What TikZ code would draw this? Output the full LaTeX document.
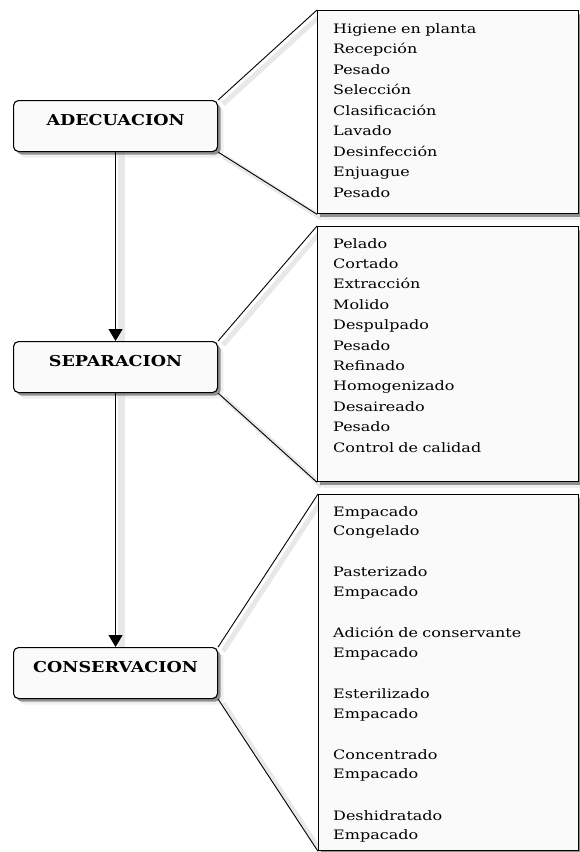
\documentclass[tikz,border=0pt]{standalone}
\usepackage{fontspec}
\usetikzlibrary{arrows.meta,shadows,backgrounds}
\newfontfamily\bodyfont[FakeStretch=1.23]{DejaVu Serif}
\newfontfamily\labelfont[FakeStretch=1.17]{DejaVu Serif}
\begin{document}
\begin{tikzpicture}[x=1pt,y=-1pt,
  stage/.style={draw=black, line width=1.1pt, rounded corners=5pt, fill=black!2,
    minimum width=204pt, inner xsep=0pt, inner ysep=0pt,
    text height=24.5pt, text depth=26.5pt, anchor=north west,
    font=\labelfont\bfseries\fontsize{15}{18}\selectfont,
    drop shadow={shadow xshift=6pt, shadow yshift=-6pt, fill=black!12},
    drop shadow={shadow xshift=3pt, shadow yshift=-3pt, fill=black!80}},
  listbox/.style={draw=black, line width=1.3pt, fill=black!2, anchor=north west,
    inner sep=0pt,
    drop shadow={shadow xshift=5pt, shadow yshift=-6pt, fill=black!12},
    drop shadow={shadow xshift=2.5pt, shadow yshift=-3pt, fill=black!80}},
  listtext/.style={inner sep=0pt, text width=240pt, align=left, anchor=base west, text=black},
  conn/.style={draw=black, line width=0.9pt},
  flow/.style={draw=black, line width=1pt, -{Triangle[width=14pt,length=12pt]}},
  lineshadow/.style={draw=black!9, line width=5pt}
]
\useasboundingbox (0,0) rectangle (579,852);

% list boxes
\node[listbox, minimum width=261pt, minimum height=203pt] (b1) at (317,10) {};
\node[listbox, minimum width=261pt, minimum height=255pt] (b2) at (317,226) {};
\node[listbox, minimum width=260pt, minimum height=356pt] (b3) at (318,494) {};

% stage boxes
\node[stage] (a) at (13,100) {ADECUACION};
\node[stage] (s) at (13,341) {SEPARACION};
\node[stage] (c) at (13,647) {CONSERVACION};

% list texts
\node[listtext, font=\bodyfont\fontsize{13}{20.5}\selectfont] (t1) at (333,33)
 {Higiene en planta\\Recepción\\Pesado\\Selección\\Clasificación\\Lavado\\Desinfección\\Enjuague\\Pesado};
\node[listtext, font=\bodyfont\fontsize{13}{20.4}\selectfont] (t2) at (333,248)
 {Pelado\\Cortado\\Extracción\\Molido\\Despulpado\\Pesado\\Refinado\\Homogenizado\\Desaireado\\Pesado\\Control de calidad};
\node[listtext, font=\bodyfont\fontsize{13}{19.3}\selectfont] (t3) at (333,516)
 {Empacado\\Congelado\\[22.3pt]Pasterizado\\Empacado\\[22.3pt]Adición de conservante\\Empacado\\[22.3pt]Esterilizado\\Empacado\\[22.3pt]Concentrado\\Empacado\\[22.3pt]Deshidratado\\Empacado};

% shadows of connectors
\begin{scope}[on background layer]
  \draw[lineshadow] ([shift={(5,4)}]a.north east) -- ([shift={(5,4)}]b1.north west);
  \draw[lineshadow] ([shift={(5,4)}]a.south east) -- ([shift={(5,4)}]b1.south west);
  \draw[lineshadow] ([shift={(5,4)}]s.north east) -- ([shift={(5,4)}]b2.north west);
  \draw[lineshadow] ([shift={(5,4)}]s.south east) -- ([shift={(5,4)}]b2.south west);
  \draw[lineshadow] ([shift={(5,4)}]c.north east) -- ([shift={(5,4)}]b3.north west);
  \draw[lineshadow] ([shift={(5,4)}]c.south east) -- ([shift={(5,4)}]b3.south west);
  \draw[lineshadow, line width=7pt] ([xshift=6pt]a.south) -- ([xshift=6pt]s.north);
  \draw[lineshadow, line width=7pt] ([xshift=6pt]s.south) -- ([xshift=6pt]c.north);
\end{scope}

% connectors
\draw[conn] (a.north east) -- (b1.north west);
\draw[conn] (a.south east) -- (b1.south west);
\draw[conn] (s.north east) -- (b2.north west);
\draw[conn] (s.south east) -- (b2.south west);
\draw[conn] (c.north east) -- (b3.north west);
\draw[conn] (c.south east) -- (b3.south west);
\draw[flow] (a.south) -- (s.north);
\draw[flow] (s.south) -- (c.north);
\end{tikzpicture}
\end{document}
